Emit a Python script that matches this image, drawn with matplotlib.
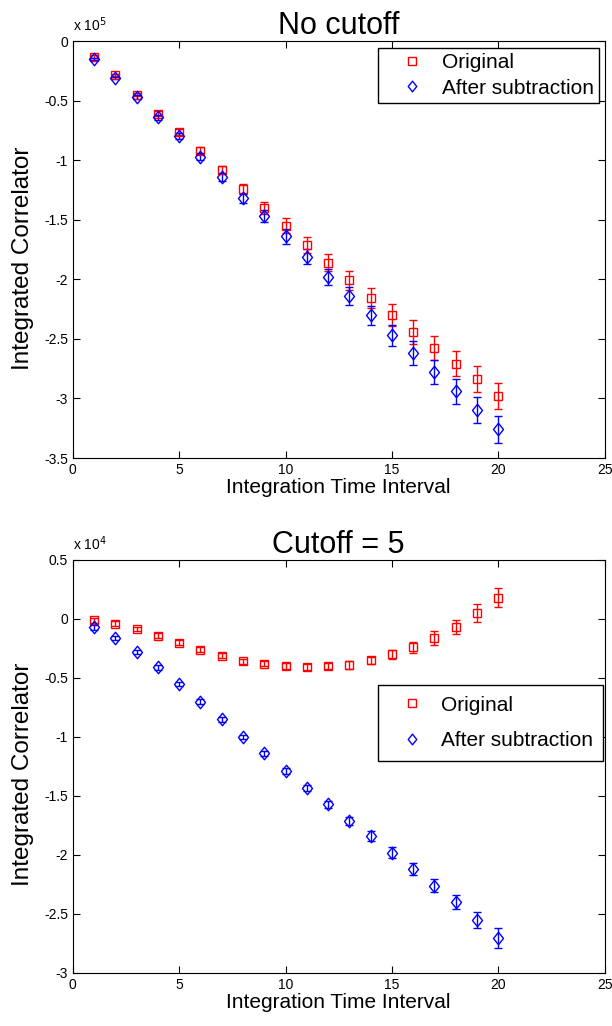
import numpy as np
import matplotlib
matplotlib.use('Agg')
import matplotlib.pyplot as plt
from matplotlib.path import Path

plt.rcParams['font.family'] = ['Liberation Sans', 'DejaVu Sans']

# Integration time interval
t = np.arange(1, 21)

# No cutoff (values in units of 1e5)
orig_top = [-0.13, -0.285, -0.45, -0.61, -0.76, -0.92, -1.08, -1.24, -1.40, -1.55,
            -1.71, -1.86, -2.01, -2.16, -2.30, -2.44, -2.58, -2.71, -2.84, -2.98]
orig_top_err = [0.01, 0.012, 0.015, 0.02, 0.025, 0.03, 0.035, 0.04, 0.05, 0.063,
                0.068, 0.072, 0.078, 0.085, 0.095, 0.1, 0.1, 0.105, 0.11, 0.11]
sub_top = [-0.15, -0.31, -0.47, -0.64, -0.80, -0.97, -1.14, -1.32, -1.47, -1.64,
           -1.81, -1.98, -2.14, -2.30, -2.47, -2.62, -2.78, -2.94, -3.10, -3.26]
sub_top_err = [0.01, 0.012, 0.015, 0.02, 0.025, 0.03, 0.035, 0.04, 0.05, 0.06,
               0.065, 0.07, 0.075, 0.08, 0.09, 0.1, 0.1, 0.105, 0.11, 0.11]

# Cutoff = 5 (values in units of 1e4)
orig_bot = [-0.01, -0.04, -0.085, -0.14, -0.20, -0.26, -0.31, -0.36, -0.38, -0.40,
            -0.41, -0.40, -0.39, -0.35, -0.30, -0.24, -0.16, -0.065, 0.05, 0.18]
orig_bot_err = [0.02, 0.02, 0.02, 0.02, 0.02, 0.02, 0.02, 0.02, 0.02, 0.025,
                0.025, 0.025, 0.03, 0.03, 0.035, 0.045, 0.057, 0.06, 0.076, 0.08]
sub_bot = [-0.07, -0.16, -0.28, -0.41, -0.55, -0.70, -0.85, -1.00, -1.14, -1.29,
           -1.43, -1.57, -1.71, -1.84, -1.98, -2.12, -2.26, -2.40, -2.55, -2.70]
sub_bot_err = [0.02, 0.02, 0.02, 0.02, 0.02, 0.02, 0.02, 0.02, 0.02, 0.025,
               0.025, 0.03, 0.035, 0.04, 0.045, 0.05, 0.056, 0.06, 0.07, 0.085]

# MATLAB-like diamond (a bit wider than matplotlib's thin diamond)
diamond = Path([(0, 1), (0.8, 0), (0, -1), (-0.8, 0), (0, 1)],
               [Path.MOVETO, Path.LINETO, Path.LINETO, Path.LINETO, Path.CLOSEPOLY])

fig = plt.figure(figsize=(6.12, 10.26), dpi=100)
ax1 = fig.add_axes([0.119, 0.5536, 0.869, 0.4064])
ax2 = fig.add_axes([0.119, 0.0517, 0.869, 0.4025])


def draw(ax, orig, oerr, sub, serr, ylim, yticks, title, exp, leg_anchor, leg_kw):
    ax.errorbar(t, orig, yerr=oerr, fmt='none', ecolor='red',
                elinewidth=1.0, capsize=3, capthick=1.0)
    ax.errorbar(t, sub, yerr=serr, fmt='none', ecolor='blue',
                elinewidth=1.0, capsize=3, capthick=1.0)
    ax.plot(t, orig, 's', mfc='none', mec='red', ms=6, mew=1.0, label='Original')
    ax.plot(t, sub, marker=diamond, ls='none', mfc='none', mec='blue', ms=9, mew=1.0,
            label='After subtraction')
    ax.set_xlim(0, 25)
    ax.set_ylim(*ylim)
    ax.set_xticks([0, 5, 10, 15, 20, 25])
    ax.set_yticks(yticks)
    ax.set_yticklabels(['%g' % v for v in yticks])
    ax.tick_params(direction='in', top=True, right=True, labelsize=10, length=5)
    ax.set_xlabel('Integration Time Interval', fontsize=15, labelpad=1)
    ax.set_ylabel('Integrated Correlator', fontsize=17.5)
    ax.yaxis.set_label_coords(-0.073, 0.48)
    ax.set_title(title, fontsize=22, pad=5)
    ax.text(0.0, 1.016, r'x 10$^{%d}$' % exp, transform=ax.transAxes, fontsize=10,
            ha='left', va='bottom')
    leg = ax.legend(loc='upper left', bbox_to_anchor=leg_anchor, fontsize=15,
                    fancybox=False, edgecolor='black', framealpha=1,
                    borderaxespad=0, markerscale=0.85, **leg_kw)
    leg.get_frame().set_linewidth(1.0)


draw(ax1, orig_top, orig_top_err, sub_top, sub_top_err, (-3.5, 0),
     [-3.5, -3, -2.5, -2, -1.5, -1, -0.5, 0], 'No cutoff', 5,
     (0.574, 0.983),
     dict(borderpad=0.25, labelspacing=0.3, handlelength=2.8, handletextpad=0.0))
draw(ax2, orig_bot, orig_bot_err, sub_bot, sub_bot_err, (-3, 0.5),
     [-3, -2.5, -2, -1.5, -1, -0.5, 0, 0.5], 'Cutoff = 5', 4,
     (0.574, 0.697),
     dict(borderpad=0.5, labelspacing=0.8, handlelength=2.3, handletextpad=0.2))

plt.savefig('out.png', dpi=100)
